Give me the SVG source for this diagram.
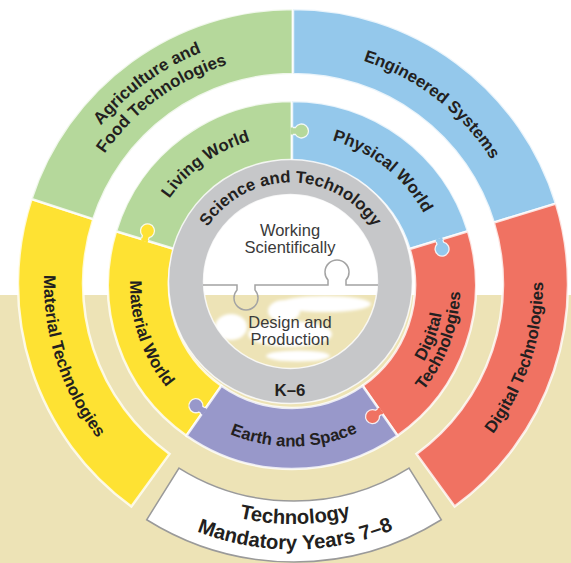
<svg xmlns="http://www.w3.org/2000/svg" width="571" height="563" viewBox="0 0 571 563">
<style>
.lbl{font-family:"Liberation Sans",Arial,Helvetica,sans-serif;font-weight:bold;font-size:16.8px;fill:#231f20}
.big{font-size:20.3px}
.in{font-family:"Liberation Sans",Arial,Helvetica,sans-serif;font-size:16.5px;fill:#3a3a3a;text-anchor:middle}
.seg{stroke:#fff;stroke-opacity:0.8;stroke-width:2.5}
.ko{fill:none;stroke:#fff;stroke-opacity:0.85;stroke-width:1.3}
.yel{fill:#fee233}.grn{fill:#b5d89b}.blu{fill:#94c8eb}.red{fill:#f07262}.pur{fill:#9898ca}
</style>
<defs>
<path id="pAg1" d="M 45.37 310.03 A 249 249 0 0 1 394.27 56.53"/>
<path id="pAg2" d="M 65.25 307.94 A 229 229 0 0 1 386.14 74.80"/>
<path id="pEng" d="M 204.21 67.50 A 234 234 0 0 1 524.89 315.35"/>
<path id="pLiv" d="M 142.69 299.38 A 150 150 0 0 1 354.20 148.51"/>
<path id="pPhy" d="M 237.03 145.44 A 150 150 0 0 1 440.35 307.17"/>
<path id="pSci" d="M 191.88 290.13 A 99 99 0 1 1 389.12 290.13"/>
<path id="pMatT" d="M 107.67 117.71 A 249 249 0 0 0 241.66 527.65"/>
<path id="pMatW" d="M 170.12 178.28 A 162 162 0 0 0 260.53 443.92"/>
<path id="pDigT" d="M 344.13 528.72 A 250 250 0 0 0 479.37 117.37"/>
<path id="pDig1" d="M 317.17 435.41 A 152.5 152.5 0 0 0 409.67 188.00"/>
<path id="pDig2" d="M 319.81 451.19 A 168.5 168.5 0 0 0 422.02 177.82"/>
<path id="pEar" d="M 153.13 367.45 A 161.5 161.5 0 0 0 432.84 364.04"/>
<path id="pTec1" d="M 86.21 405.81 A 240 240 0 0 0 501.89 402.17"/>
<path id="pTec2" d="M 64.24 418.75 A 265.5 265.5 0 0 0 524.08 414.74"/>
<path id="knob" d="M -3.5 -1.5 L -3.5 3.44 A 7 7 0 1 0 3.5 3.44 L 3.5 -1.5 Z"/>
<path id="knobo" d="M -3.5 1 L -3.5 3.44 A 7 7 0 1 0 3.5 3.44 L 3.5 1"/>
<clipPath id="cc"><circle cx="290.5" cy="281.5" r="87"/></clipPath>
<filter id="soft" x="-20%" y="-20%" width="140%" height="140%"><feGaussianBlur stdDeviation="1.6"/></filter>
</defs>

<rect x="0" y="0" width="571" height="563" fill="#ffffff"/>
<rect x="0" y="295" width="571" height="268" fill="#ede3b6"/>

<g id="outer-material-technologies">
<path class="seg yel" d="M 131.36 506.48 A 275 275 0 0 1 31.46 199.02 L 93.28 219.11 A 210 210 0 0 0 169.56 453.89 Z"/>
<text class="lbl"><textPath href="#pMatT" startOffset="50%" text-anchor="middle">Material Technologies</textPath></text>
</g>
<g id="outer-agriculture">
<path class="seg grn" d="M 31.46 199.02 A 275 275 0 0 1 293 9 L 293 74 A 210 210 0 0 0 93.28 219.11 Z"/>
<text class="lbl" style="font-size:17px"><textPath href="#pAg1" startOffset="50%" text-anchor="middle">Agriculture and</textPath></text>
<text class="lbl" style="font-size:17px"><textPath href="#pAg2" startOffset="50%" text-anchor="middle">Food Technologies</textPath></text>
</g>
<g id="outer-engineered">
<path class="seg blu" d="M 293 9 A 275 275 0 0 1 555.98 203.60 L 493.82 222.60 A 210 210 0 0 0 293 74 Z"/>
<text class="lbl"><textPath href="#pEng" startOffset="50%" text-anchor="middle">Engineered Systems</textPath></text>
</g>
<g id="outer-digital">
<path class="seg red" d="M 555.98 203.60 A 275 275 0 0 1 454.64 506.48 L 416.44 453.89 A 210 210 0 0 0 493.82 222.60 Z"/>
<text class="lbl"><textPath href="#pDigT" startOffset="50%" text-anchor="middle">Digital Technologies</textPath></text>
</g>

<g id="inner-material-world">
<path class="seg yel" d="M 186.46 435.72 A 184 184 0 0 1 116.04 231.20 L 174.38 249.04 A 123 123 0 0 0 221.45 385.76 Z"/>
</g>
<g id="inner-living-world">
<path class="seg grn" d="M 116.04 231.20 A 184 184 0 0 1 292 101 L 292 162 A 123 123 0 0 0 174.38 249.04 Z"/>
</g>
<g id="inner-physical-world">
<path class="seg blu" d="M 292 101 A 184 184 0 0 1 467.96 231.20 L 409.62 249.04 A 123 123 0 0 0 292 162 Z"/>
</g>
<g id="inner-digital">
<path class="seg red" d="M 467.96 231.20 A 184 184 0 0 1 397.54 435.72 L 362.55 385.76 A 123 123 0 0 0 409.62 249.04 Z"/>
</g>
<g id="inner-earth-space">
<path class="seg pur" d="M 397.54 435.72 A 184 184 0 0 1 186.46 435.72 L 221.45 385.76 A 123 123 0 0 0 362.55 385.76 Z"/>
</g>

<g id="connectors">
<g transform="rotate(197 292 285) translate(446 285)"><use href="#knob" class="yel"/><use href="#knobo" class="ko"/></g>
<g transform="rotate(270 292 285) translate(446 285)"><use href="#knob" class="grn"/><use href="#knobo" class="ko"/></g>
<g transform="rotate(343 292 285) translate(446 285)"><use href="#knob" class="blu"/><use href="#knobo" class="ko"/></g>
<g transform="rotate(55 292 285) translate(446 285)"><use href="#knob" class="red"/><use href="#knobo" class="ko"/></g>
<g transform="rotate(125 292 285) translate(446 285)"><use href="#knob" class="pur"/><use href="#knobo" class="ko"/></g>
</g>

<g id="inner-labels">
<text class="lbl"><textPath href="#pMatW" startOffset="50%" text-anchor="middle">Material World</textPath></text>
<text class="lbl"><textPath href="#pLiv" startOffset="50%" text-anchor="middle">Living World</textPath></text>
<text class="lbl"><textPath href="#pPhy" startOffset="50%" text-anchor="middle">Physical World</textPath></text>
<text class="lbl"><textPath href="#pDig1" startOffset="50%" text-anchor="middle">Digital</textPath></text>
<text class="lbl"><textPath href="#pDig2" startOffset="50%" text-anchor="middle">Technologies</textPath></text>
<text class="lbl"><textPath href="#pEar" startOffset="50%" text-anchor="middle">Earth and Space</textPath></text>
</g>

<g id="science-technology-ring">
<path d="M 168.5 281.5 a 122 122 0 1 0 244 0 a 122 122 0 1 0 -244 0 Z M 203.5 281.5 a 87 87 0 1 0 174 0 a 87 87 0 1 0 -174 0 Z" fill="#c6c7c9" fill-rule="evenodd" stroke="#fff" stroke-opacity="0.8" stroke-width="1.5"/>
<text class="lbl"><textPath href="#pSci" startOffset="50%" text-anchor="middle">Science and Technology</textPath></text>
<text class="lbl" x="290" y="396" text-anchor="middle">K–6</text>
</g>

<g id="core">
<g clip-path="url(#cc)" filter="url(#soft)" fill="#ffffff">
<ellipse cx="325" cy="304" rx="46" ry="8"/>
<ellipse cx="284" cy="311" rx="16" ry="11"/>
<ellipse cx="231" cy="327" rx="16" ry="13"/>
<ellipse cx="290" cy="334" rx="42" ry="13"/>
<ellipse cx="298" cy="356" rx="32" ry="5.5"/>
</g>
<path d="M 203 285 L 237 285 L 237 290 A 12 12 0 1 0 255 290 L 255 285 L 328 285 L 328 280 A 12 12 0 1 1 346 280 L 346 285 L 378 285" fill="none" stroke="#a3a3a3" stroke-width="1.5"/>
<text class="in" x="290" y="235.5">Working</text>
<text class="in" x="290" y="253">Scientifically</text>
<text class="in" x="290" y="327.5">Design and</text>
<text class="in" x="290" y="344.5">Production</text>
</g>

<g id="technology-mandatory">
<path d="M 179.01 468.03 A 217 217 0 0 0 408.99 468.03 L 441.32 519.76 A 278 278 0 0 1 146.68 519.76 Z" fill="#ffffff" stroke="#9a9a9a" stroke-width="1.5"/>
<text class="lbl big"><textPath href="#pTec1" startOffset="50%" text-anchor="middle">Technology</textPath></text>
<text class="lbl big"><textPath href="#pTec2" startOffset="50%" text-anchor="middle">Mandatory Years 7–8</textPath></text>
</g>
</svg>
